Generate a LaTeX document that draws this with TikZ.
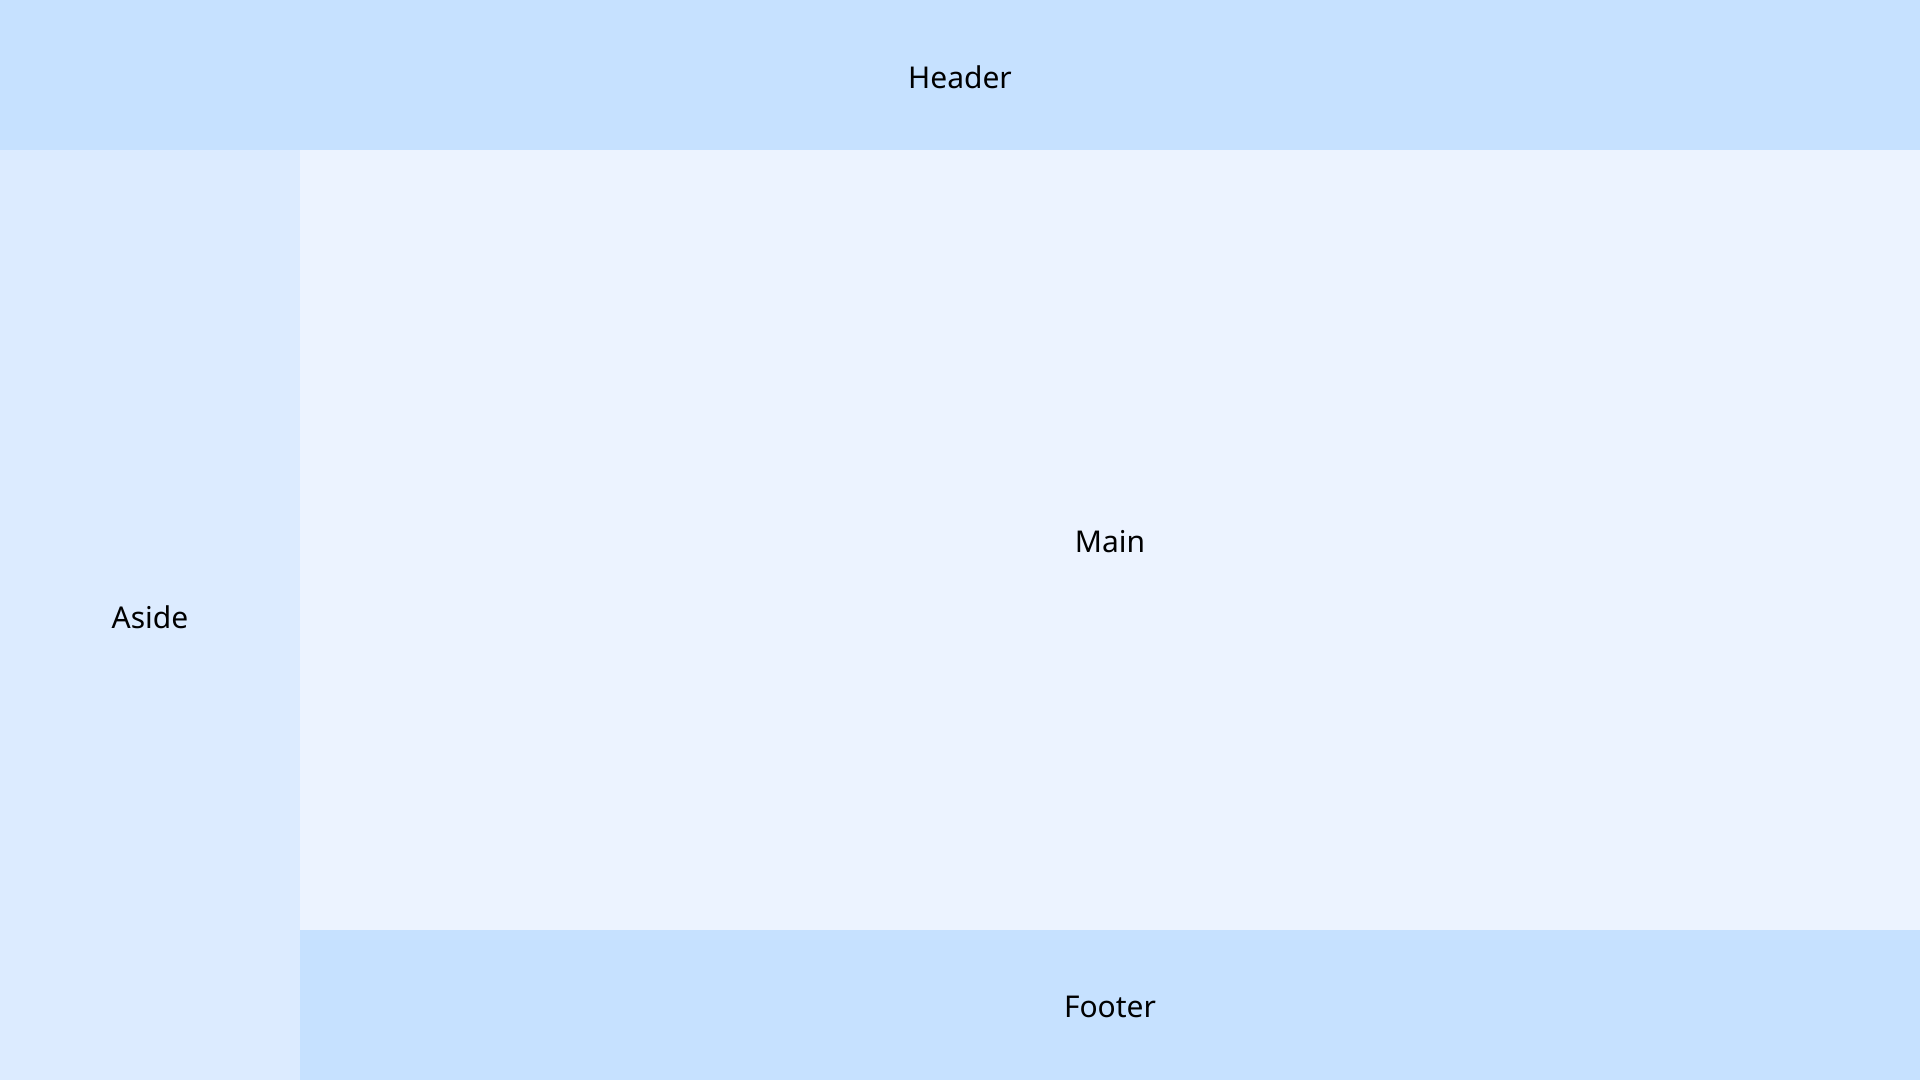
\documentclass[tikz,border=0pt]{standalone}
\usepackage{fontspec}
\setmainfont{Noto Sans}
\definecolor{hdr}{HTML}{C6E1FF}
\definecolor{asd}{HTML}{DCEBFF}
\definecolor{mn}{HTML}{ECF3FF}
\begin{document}
\begin{tikzpicture}[x=1pt,y=-1pt,
  region/.style={draw=none,inner sep=0pt,outer sep=0pt,font=\fontsize{30}{36}\selectfont,text=black}]
\useasboundingbox (0,0) rectangle (1920,1080);
\fill[hdr] (0,0) rectangle (1920,150);
\fill[asd] (0,150) rectangle (300,1080);
\fill[mn] (300,150) rectangle (1920,930);
\fill[hdr] (300,930) rectangle (1920,1080);
\node[region] (header) at (960,77) {Header};
\node[region] (aside) at (150,617) {Aside};
\node[region] (main) at (1110,542) {Main};
\node[region] (footer) at (1110,1007) {Footer};
\end{tikzpicture}
\end{document}
